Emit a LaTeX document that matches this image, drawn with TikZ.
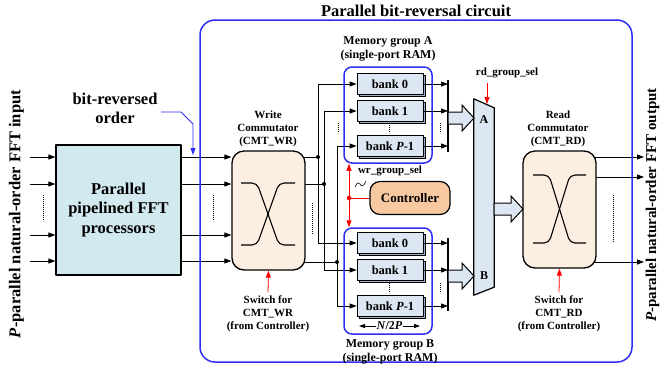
\documentclass[tikz,border=0pt]{standalone}
\usepackage{fontspec}
\setmainfont{Liberation Serif}
\usetikzlibrary{arrows.meta,calc,shadows,backgrounds}
\definecolor{fftblue}{RGB}{211,233,240}
\definecolor{cmtfill}{RGB}{253,238,226}
\definecolor{ctrlfill}{RGB}{248,201,160}
\definecolor{bankfill}{RGB}{221,230,243}
\definecolor{bankshade}{RGB}{165,175,195}
\definecolor{bordblue}{RGB}{45,45,245}
\begin{document}
\begin{tikzpicture}[x=1pt,y=-1pt,line join=round,
  wire/.style={line width=0.8pt},
  arr/.style={wire,-{Triangle[length=7pt,width=5pt]}},
  redarr/.style={red,line width=0.8pt,-{Triangle[length=7pt,width=5pt]}},
  blk/.style={draw,line width=1.3pt},
  cmt/.style={blk,fill=cmtfill,rounded corners=12pt,minimum width=73pt,minimum height=119pt},
  bankbox/.style={draw,line width=0.8pt,fill=bankfill,minimum width=66pt,minimum height=21pt,
     font=\fontsize{12.5}{14}\selectfont\bfseries,
     copy shadow={shadow xshift=2pt,shadow yshift=-2pt,fill=bankshade,draw=black,line width=0.8pt}},
  grp/.style={draw=bordblue,line width=1.5pt,rounded corners=8pt,minimum width=88pt},
  lbl/.style={align=center,font=\fontsize{11}{13}\selectfont\bfseries},
  mlbl/.style={align=center,font=\fontsize{12}{14.5}\selectfont\bfseries},
  dots/.style={line width=0.7pt,dash pattern=on 0.7pt off 1.3pt},
  jdot/.style={circle,fill,inner sep=0pt,minimum size=4pt},
  fat/.style={draw,line width=1pt,fill=bankfill,line join=miter},
  xline/.style={line width=1.1pt,rounded corners=5pt},
  pics/fatarr/.style={code={\draw[fat] (0,-6) -- ({#1-12},-6) -- ({#1-12},-13) -- (#1,0) -- ({#1-12},13) -- ({#1-12},6) -- (0,6) -- cycle;}}
]
\useasboundingbox (0,0) rectangle (660,376);
\clip (0,0) rectangle (660,376);

% outer frame and title
\node[draw=bordblue,line width=1.5pt,rounded corners=15pt,minimum width=432pt,minimum height=342pt] (circuit) at (416,191) {};
\node[font=\fontsize{16.5}{18}\selectfont\bfseries] (title) at (416,11) {Parallel bit-reversal circuit};

% side labels
\node[rotate=90,inner sep=0pt,font=\fontsize{16.5}{18}\selectfont\bfseries] (inlbl) at (16.5,214) {\textit{P}-parallel natural-order FFT input};
\node[rotate=90,inner sep=0pt,font=\fontsize{15}{16}\selectfont\bfseries] (outlbl) at (652.5,205) {\textit{P}-parallel natural-order FFT output};

% FFT processors
\node[blk,fill=fftblue,minimum width=125pt,minimum height=130pt,align=center,
      font=\fontsize{16.5}{19.5}\selectfont\bfseries] (fft) at (118.5,210) {Parallel\\pipelined FFT\\processors};
\node[align=center,font=\fontsize{16.5}{19}\selectfont\bfseries] (bro) at (115,108) {bit-reversed\\order};

% commutators
\node[cmt] (cmtwr) at (268.5,210.5) {};
\node[cmt,minimum height=117pt] (cmtrd) at (559.5,209.5) {};
\draw[xline] (241,183) -- (257,183) -- (279,245) -- (295,245);
\draw[xline] (241,245) -- (257,245) -- (279,183) -- (295,183);
\draw[xline] (533,175) -- (549,175) -- (570,243) -- (586,243);
\draw[xline] (533,243) -- (549,243) -- (570,175) -- (586,175);
\node[lbl] (wrlbl) at (268,129) {Write\\Commutator\\(CMT\_WR)};
\node[lbl] (rdlbl) at (558,129) {Read\\Commutator\\(CMT\_RD)};
\node[lbl] (swwr) at (268,314) {Switch for\\CMT\_WR\\(from Controller)};
\node[lbl] (swrd) at (559,314) {Switch for\\CMT\_RD\\(from Controller)};
\draw[redarr] (swwr.north) -- (cmtwr.south);
\draw[redarr] (swrd.north) -- (cmtrd.south);

% memory groups
\node[grp,minimum height=96pt] (gA) at (388,115) {};
\node[grp,minimum height=106pt] (gB) at (388,281) {};
\node[bankbox] (a0) at (390,84) {bank 0};
\node[bankbox] (a1) at (390,111) {bank 1};
\node[bankbox] (aP) at (390,146) {bank \textit{P}-1};
\node[bankbox] (b0) at (390,243) {bank 0};
\node[bankbox] (b1) at (390,270) {bank 1};
\node[bankbox] (bP) at (390,306) {bank \textit{P}-1};
\node[mlbl] (gAlbl) at (388,49) {Memory group A\\(single-port RAM)};
\node[mlbl] (gBlbl) at (390,352) {Memory group B\\(single-port RAM)};
\coordinate (nL) at (359,326);
\coordinate (nR) at (420,326);
\draw[line width=0.8pt,{Triangle[length=6pt,width=4pt]}-{Triangle[length=6pt,width=4pt]}] (nL) -- (nR)
  node[midway,fill=white,inner sep=1pt,font=\fontsize{12}{13}\selectfont\bfseries] (n2p) {\textit{N}/2\textit{P}};

% controller
\node[draw,line width=1.2pt,fill=ctrlfill,rounded corners=10pt,minimum width=80pt,minimum height=33pt,
      font=\fontsize{13}{14}\selectfont\bfseries] (ctrl) at (410,198) {Controller};
\node[lbl] (wrsel) at (390,171) {wr\_group\_sel};
\coordinate (wrx) at (349,198);
\draw[red,line width=0.8pt,{Triangle[length=7pt,width=5pt]}-{Triangle[length=7pt,width=5pt]}] (gA.south -| wrx) -- (gB.north -| wrx);
\draw[red,line width=0.8pt] (wrx) -- (ctrl.west);
\node[jdot,red,minimum size=4.5pt] at (wrx) {};
\draw[line width=0.6pt] (355,187) .. controls (357,182) and (359,182) .. (360,184) .. controls (361,186) and (363,188) .. (366,181);

% mux
\node[minimum width=20pt,minimum height=196pt,inner sep=0pt] (mux) at (484,197) {};
\draw[line width=1.2pt,fill=bankfill] (mux.north west) -- ($(mux.north east)+(0,9)$) -- ($(mux.south east)+(0,-8)$) -- (mux.south west) -- cycle;
\node[font=\fontsize{12}{12}\selectfont\bfseries] (muxA) at (484,120) {A};
\node[font=\fontsize{12}{12}\selectfont\bfseries] (muxB) at (484,276) {B};
\node[lbl] (rdsel) at (507,73) {rd\_group\_sel};
\coordinate (rdtop) at (487,83);
\draw[redarr] (rdtop) -- (487,104);

% read buses
\coordinate (barA1) at (448,80); \coordinate (barA2) at (448,152);
\coordinate (barB1) at (448,238); \coordinate (barB2) at (448,311);
\draw[line width=1.5pt] (barA1) -- (barA2);
\draw[line width=1.5pt] (barB1) -- (barB2);
\foreach \b in {a0,a1,aP} { \draw[arr] (\b.east) -- (barA1 |- \b.east); }
\foreach \b in {b0,b1,bP} { \draw[arr] (\b.east) -- (barB1 |- \b.east); }
\pic at (448,118) {fatarr=26};
\pic at (448,276) {fatarr=26};
\pic at (494,209) {fatarr=29};

% dotted ellipses
\draw[dots] (43,195) -- (43,221);
\draw[dots] (213,195) -- (213,221);
\draw[dots] (312,203) -- (312,235);
\draw[dots] (613,195) -- (613,242);
\draw[dots] (338,123) -- (338,133);
\draw[dots] (389,123) -- (389,133);
\draw[dots] (440,123) -- (440,133);
\draw[dots] (389,283) -- (389,293);
\draw[dots] (440,283) -- (440,293);

% junctions of write side
\coordinate (d1) at (318,157);
\coordinate (d2) at (324,184);
\coordinate (d3) at (337,262);

\begin{scope}[on background layer]
  \foreach \yy [count=\i] in {157,184,235,261} {
    \coordinate (row\i) at (30,\yy);
    \draw[arr] (row\i) -- (fft.west |- row\i);
    \draw[arr] (fft.east |- row\i) -- (cmtwr.west |- row\i);
  }
  \draw[wire] (cmtwr.center |- d1) -- (d1);
  \draw[wire] (cmtwr.center |- d2) -- (d2);
  \draw[wire] (cmtwr.center |- d3) -- (d3);
  \draw[arr] (d1) |- (a0.west);
  \draw[arr] (d1) |- (b0.west);
  \draw[arr] (d2) |- (a1.west);
  \draw[arr] (d2) |- (b1.west);
  \draw[arr] (d3) |- (aP.west);
  \draw[arr] (d3) |- (bP.west);
  \foreach \yy [count=\i] in {157,177,262} {
    \coordinate (out\i) at (644,\yy);
    \draw[arr] (cmtrd.center |- out\i) -- (out\i);
  }
\end{scope}
\node[jdot] at (d1) {};
\node[jdot] at (d2) {};
\node[jdot] at (d3) {};

% bit-reversed order pointer
\coordinate (brA) at (161,112);
\coordinate (brB) at (193,155);
\draw[bordblue,line width=0.8pt,-{Triangle[length=7pt,width=5pt]}] (brA) -- ++(20,0) -- ++(12,12) -- (brB);
\end{tikzpicture}
\end{document}
